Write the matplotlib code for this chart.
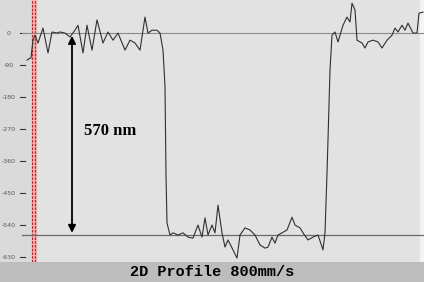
import matplotlib
matplotlib.use("Agg")
import matplotlib.pyplot as plt

# profile (position along scan, height in nm)
pos = [27, 29, 31, 33, 35, 38, 43, 48, 52, 57, 60, 65, 70, 75, 78, 83, 87, 92, 97,
       103, 108, 113, 118, 125, 130, 135, 140, 145, 148, 152, 157, 160, 163, 165, 166,
       167, 170, 173, 178, 183, 188, 193, 198, 202, 205, 208, 212, 215, 218, 222, 225,
       228, 233, 237, 240, 245, 250, 255, 260, 265, 268, 272, 275, 278, 282, 287, 292,
       295, 300, 303, 308, 313, 318, 323, 325, 327, 328, 330, 332, 335, 338, 343, 347,
       350, 352, 355, 357, 362, 365, 368, 373, 378, 382, 387, 392, 395, 398, 402, 405,
       408, 413, 417, 419, 423]
height = [-76, -72, -70, -20, -6, -28, 14, -56, 3, 0, 3, 0, -11, 8, 22, -56, 22, -48, 37,
          -28, 3, -20, 0, -48, -20, -28, -48, 45, 0, 8, 8, 0, -48, -150, -400,
          -534, -568, -562, -568, -562, -574, -577, -540, -574, -520, -568, -540, -562, -484, -562, -602,
          -582, -610, -633, -568, -548, -554, -568, -596, -605, -602, -574, -591, -568, -562, -554, -518,
          -540, -548, -562, -582, -574, -568, -610, -562, -394, -300, -104, -6, 3, -25, 22, 45,
          31, 84, 65, -20, -28, -42, -25, -20, -25, -42, -20, -6, 14, 3, 22, 8,
          28, 0, 0, 56, 59]

ticks = [0, -90, -180, -270, -360, -450, -540, -630]
top_level = 0
bottom_level = -568
step_label = "570 nm"
title = "2D Profile 800mm/s"

fig = plt.figure(figsize=(4.24, 2.82), dpi=100)
fig.patch.set_facecolor("#bdbdbd")

ax = fig.add_axes([0, 20 / 282, 1, 262 / 282])
ax.set_facecolor("#e2e2e2")
ax.set_xlim(0, 424)
ax.set_ylim(-644, 93)
ax.set_xticks([])
ax.set_yticks([])
for s in ax.spines.values():
    s.set_visible(False)
ax.axvspan(0, 30, color="#dadada", zorder=0)
ax.axvspan(420, 424, color="#f4f4f4", zorder=0)

# y ticks drawn like the instrument software
for t in ticks:
    ax.plot([20, 25], [t, t], color="#333333", lw=0.8)
    ax.text(9, t, str(t), fontsize=4.5, color="#555555", ha="center", va="center")

# red cursor line
ax.axvspan(31.5, 35.5, color="#f0b8b8", zorder=1)
ax.axvline(32, color="#c02020", lw=0.9, ls=(0, (2, 1)), zorder=2)
ax.axvline(35, color="#c02020", lw=0.9, ls=(0, (2, 1)), zorder=2)

# level lines
ax.plot([22, 424], [top_level, top_level], color="#8a8a8a", lw=0.8, zorder=2)
ax.plot([22, 424], [bottom_level, bottom_level], color="#6a6a6a", lw=0.9, zorder=2)

ax.plot(pos, height, color="#303030", lw=0.8, zorder=3)

# step height arrow
ax.annotate("", xy=(72, -8), xytext=(72, -562),
            arrowprops=dict(arrowstyle="<|-|>", color="black", lw=1.3,
                            mutation_scale=11, shrinkA=0, shrinkB=0), zorder=4)
ax.text(110, -275, step_label, fontsize=12, fontweight="bold",
        family="Liberation Serif", ha="center", va="center")

fig.text(0.5, 10 / 282, title, fontsize=11, fontweight="bold",
         family="Liberation Mono", ha="center", va="center")

fig.savefig("out.png", dpi=100, facecolor=fig.get_facecolor())
